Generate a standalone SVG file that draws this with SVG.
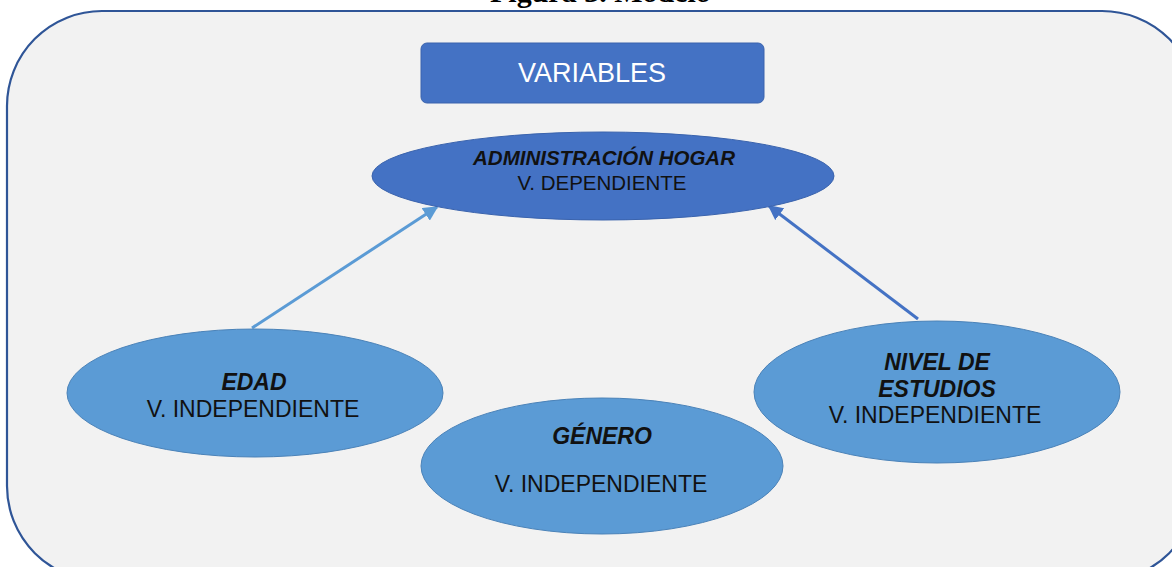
<svg xmlns="http://www.w3.org/2000/svg" width="1172" height="567" viewBox="0 0 1172 567">
  <style>
    .t { font-family: "Liberation Sans", Arial, sans-serif; fill: #111111; text-anchor: middle; }
    .b { font-weight: bold; font-style: italic; }
    .dark { fill: #4472C4; stroke: #3a63ad; stroke-width: 1; }
    .light { fill: #5B9BD5; stroke: #4a82b8; stroke-width: 1; }
  </style>
  <defs>
    <marker id="ahL" viewBox="0 0 10 10" refX="9" refY="5" markerWidth="5" markerHeight="5" orient="auto" markerUnits="strokeWidth">
      <path d="M0,0 L10,5 L0,10 z" fill="#5B9BD5"/>
    </marker>
    <marker id="ahR" viewBox="0 0 10 10" refX="9" refY="5" markerWidth="5" markerHeight="5" orient="auto" markerUnits="strokeWidth">
      <path d="M0,0 L10,5 L0,10 z" fill="#4472C4"/>
    </marker>
  </defs>
  <rect width="1172" height="567" fill="#ffffff"/>
  <text x="490" y="2" style="font-family: 'Liberation Serif', 'Times New Roman', serif; font-weight: bold; font-size: 30px; fill: #000;">Figura 3. Modelo</text>
  <rect id="frame" x="7" y="11" width="1190" height="570" rx="95" ry="95" fill="#F2F2F2" stroke="#2F5597" stroke-width="2.2"/>

  <g id="connectors">
    <line x1="252" y1="328" x2="437" y2="207" stroke="#5B9BD5" stroke-width="3" marker-end="url(#ahL)"/>
    <line x1="918" y1="319" x2="769" y2="206" stroke="#4472C4" stroke-width="3" marker-end="url(#ahR)"/>
  </g>

  <g id="variables">
    <rect x="421" y="43" width="343" height="60" rx="6" ry="6" fill="#4472C4" stroke="#3a63ad" stroke-width="1"/>
    <text class="t" x="592" y="82" style="font-size: 27px; fill: #ffffff;">VARIABLES</text>
  </g>

  <g id="admin">
    <ellipse class="dark" cx="603" cy="176" rx="231" ry="44"/>
    <text class="t b" x="604" y="165" style="font-size: 20.5px;">ADMINISTRACIÓN HOGAR</text>
    <text class="t" x="602" y="190" style="font-size: 20.5px;">V. DEPENDIENTE</text>
  </g>

  <g id="edad">
    <ellipse class="light" cx="255" cy="393" rx="188" ry="64"/>
    <text class="t b" x="254" y="390" style="font-size: 23px;">EDAD</text>
    <text class="t" x="253" y="417" style="font-size: 23px;">V. INDEPENDIENTE</text>
  </g>

  <g id="nivel">
    <ellipse class="light" cx="937" cy="392" rx="183" ry="71"/>
    <text class="t b" x="937" y="370" style="font-size: 23px;">NIVEL DE</text>
    <text class="t b" x="937" y="397" style="font-size: 23px;">ESTUDIOS</text>
    <text class="t" x="935" y="423" style="font-size: 23px;">V. INDEPENDIENTE</text>
  </g>

  <g id="genero">
    <ellipse class="light" cx="602" cy="466" rx="181" ry="68"/>
    <text class="t b" x="602" y="444" style="font-size: 23px;">GÉNERO</text>
    <text class="t" x="601" y="492" style="font-size: 23px;">V. INDEPENDIENTE</text>
  </g>
</svg>
